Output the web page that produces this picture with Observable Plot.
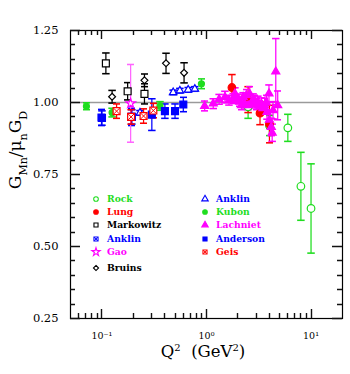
<!DOCTYPE html>
<html><head><meta charset="utf-8">
<script src="https://cdn.jsdelivr.net/npm/d3@7"></script>
<script src="https://cdn.jsdelivr.net/npm/@observablehq/plot@0.6"></script>
<style>body{margin:0;background:#fff} svg{display:block}</style>
</head><body><div id="chart"></div>
<script>
// ---- data (Q^2 in GeV^2, ratio, error) ----
const rockQ2 = [2.5, 4.0, 6.0, 8.0, 10.0];
const rockVal = [0.985, 0.92, 0.912, 0.709, 0.632];
const rockErr = [0.040, 0.035, 0.047, 0.118, 0.155];

const lungQ2 = [1.75, 2.5, 3.25, 4.0];
const lungVal = [1.052, 1.01, 0.963, 0.925];
const lungErr = [0.045, 0.045, 0.040, 0.065];

const markQ2 = [0.109, 0.176, 0.255];
const markVal = [1.136, 1.039, 1.030];
const markErr = [0.036, 0.030, 0.035];

const anklinXQ2 = [0.099, 0.192];
const anklinXVal = [0.948, 0.950];
const anklinXErr = [0.028, 0.030];

const gaoQ2 = [0.188];
const gaoVal = [0.997];
const gaoErr = [0.135];

const bruinsQ2 = [0.125, 0.255, 0.41, 0.61];
const bruinsVal = [1.020, 1.077, 1.136, 1.103];
const bruinsErr = [0.022, 0.022, 0.035, 0.035];

const anklinTQ2 = [0.231, 0.48, 0.556, 0.668, 0.773];
const anklinTVal = [0.964, 1.035, 1.041, 1.044, 1.047];
const anklinTErr = [0.008, 0.008, 0.008, 0.008, 0.008];

const kubonQ2 = [0.071, 0.125, 0.359, 0.894];
const kubonVal = [0.987, 0.965, 0.988, 1.065];
const kubonErr = [0.012, 0.015, 0.015, 0.017];

const lachQ2 = [0.96, 1.16, 1.32, 1.50, 1.64, 1.80, 1.87, 1.93, 2.0, 2.08, 2.16, 2.24, 2.33, 2.41, 2.50, 2.59, 2.69, 2.79, 2.89, 3.0, 3.1, 3.22, 3.35, 3.47, 3.6, 3.74, 3.79, 3.96, 4.0, 4.17, 4.25, 4.33, 4.6, 4.8];
const lachVal = [0.988, 0.996, 1.011, 1.019, 1.008, 1.014, 1.031, 1.012, 1.014, 1.002, 0.990, 1.019, 0.996, 1.025, 0.990, 1.030, 0.996, 1.010, 1.005, 0.995, 1.002, 0.985, 0.996, 0.980, 0.990, 1.000, 0.967, 1.031, 0.940, 0.915, 0.895, 0.973, 1.107, 0.990];
const lachErr = [0.017, 0.017, 0.017, 0.020, 0.017, 0.017, 0.020, 0.015, 0.015, 0.015, 0.015, 0.015, 0.015, 0.020, 0.015, 0.025, 0.015, 0.020, 0.020, 0.020, 0.020, 0.020, 0.020, 0.020, 0.025, 0.025, 0.025, 0.030, 0.030, 0.030, 0.030, 0.030, 0.115, 0.050];

const andQ2 = [0.1, 0.193, 0.3, 0.4, 0.5, 0.6];
const andVal = [0.946, 0.950, 0.958, 0.970, 0.970, 0.993];
const andErr = [0.025, 0.025, 0.055, 0.025, 0.025, 0.025];

const geisQ2 = [0.138, 0.19, 0.25, 0.31];
const geisVal = [0.970, 0.950, 0.953, 0.972];
const geisErr = [0.025, 0.025, 0.025, 0.025];

const xMajor = [0.1, 1, 10];
const xLabels = ["10\u207B\u00B9", "10\u2070", "10\u00B9"];
const yMajor = [0.25, 0.5, 0.75, 1.0, 1.25];
const yLabels = ["0.25", "0.50", "0.75", "1.00", "1.25"];

// ---- styling ----
const GREEN = "#1fdd1f", RED = "#ff0000", BLUE = "#0000ff", MAG = "#ff00ff", BLK = "#000000";

const series = [
  {name: "Rock", q: rockQ2, v: rockVal, e: rockErr, color: GREEN, symbol: "circle", filled: false, r: 3.8},
  {name: "Lung", q: lungQ2, v: lungVal, e: lungErr, color: RED, symbol: "circle", filled: true, r: 3.8},
  {name: "Markowitz", q: markQ2, v: markVal, e: markErr, color: BLK, symbol: "square", filled: false, r: 3.9},
  {name: "Anklin", q: anklinXQ2, v: anklinXVal, e: anklinXErr, color: BLUE, symbol: "square", filled: false, crossed: true, r: 3.9},
  {name: "Gao", q: gaoQ2, v: gaoVal, e: gaoErr, color: MAG, bar: "#ff66ff", symbol: "star", filled: false, r: 3.0},
  {name: "Bruins", q: bruinsQ2, v: bruinsVal, e: bruinsErr, color: BLK, symbol: "diamond2", filled: false, r: 3.1},
  {name: "Anklin", q: anklinTQ2, v: anklinTVal, e: anklinTErr, color: BLUE, symbol: "triangle", filled: false, r: 2.8},
  {name: "Kubon", q: kubonQ2, v: kubonVal, e: kubonErr, color: GREEN, symbol: "circle", filled: true, r: 3.0},
  {name: "Lachniet", q: lachQ2, v: lachVal, e: lachErr, color: MAG, symbol: "triangle", filled: true, r: 3.0},
  {name: "Anderson", q: andQ2, v: andVal, e: andErr, color: BLUE, symbol: "square", filled: true, r: 3.9},
  {name: "Geis", q: geisQ2, v: geisVal, e: geisErr, color: RED, symbol: "square", filled: false, crossed: true, r: 3.9}
];

const W = 350, H = 374, MT = 30, MR = 8, MB = 56, ML = 70;
const XDOM = [0.05, 20], YDOM = [0.25, 1.25];
const L = ML, R = W - MR, T = MT, B = H - MB;

const xMinor = [];
for (const d of [0.01, 0.1, 1]) for (let k = 2; k <= 9; k++) { const t = +(k * d).toPrecision(3); if (t > 0.05 && t < 20) xMinor.push(t); }
const yMinor = d3.range(5, 26).map(k => +(k * 0.05).toFixed(2)).filter(t => !yMajor.includes(t));

const marks = [];
marks.push(Plot.ruleY([1], {stroke: "#9a9a9a", strokeWidth: 1.3}));

for (const s of series) {
  const rows = s.q.map((q, i) => ({q, v: s.v[i], e: s.e[i]}));
  marks.push(Plot.link(rows, {x1: "q", x2: "q", y1: d => d.v - d.e, y2: d => d.v + d.e,
    stroke: s.bar || s.color, strokeWidth: 1.25, markerStart: "tick", markerEnd: "tick"}));
}
for (const s of series) {
  const rows = s.q.map((q, i) => ({q, v: s.v[i], e: s.e[i]}));
  marks.push(Plot.dot(rows, {x: "q", y: "v", symbol: s.symbol, r: s.r,
    fill: s.filled ? s.color : "white", stroke: s.color, strokeWidth: 1.2}));
  if (s.crossed) marks.push(Plot.dot(rows, {x: "q", y: "v", symbol: "times", r: 2.8, stroke: s.color, strokeWidth: 1}));
}
marks.push(Plot.frame({stroke: BLK, strokeWidth: 1.2}));
marks.push(Plot.axisX({ticks: xMajor, tickFormat: d => xLabels[xMajor.indexOf(d)], tickSize: 0, tickPadding: 14, fontSize: 9.5, label: null}));
marks.push(Plot.axisY({ticks: yMajor, tickFormat: d => yLabels[yMajor.indexOf(d)], tickSize: 0, tickPadding: 12, fontSize: 11.5, label: null}));

const svgNode = Plot.plot({
  width: W, height: H, marginTop: MT, marginRight: MR, marginBottom: MB, marginLeft: ML,
  style: {fontFamily: "DejaVu Serif", background: "white", color: "black"},
  x: {type: "log", domain: XDOM, label: null},
  y: {domain: YDOM, label: null},
  marks
});
document.getElementById("chart").append(svgNode);

const svg = d3.select(svgNode);

// inward ticks on all four sides (same geometry as the plot's x/y scales)
const X = d3.scaleLog(XDOM, [L, R]), Y = d3.scaleLinear(YDOM, [B, T]);
const tickPath = [];
const addX = (vals, len) => vals.forEach(v => {
  const x = Math.round(X(v)) + 0.5;
  tickPath.push(`M${x},${B}V${B - len}`, `M${x},${T}V${T + len}`);
});
const addY = (vals, len) => vals.forEach(v => {
  const y = Math.round(Y(v)) + 0.5;
  tickPath.push(`M${L},${y}H${L + len}`, `M${R},${y}H${R - len}`);
});
addX(xMajor, 9); addX(xMinor, 5); addY(yMajor, 10); addY(yMinor, 5);
svg.append("path").attr("d", tickPath.join("")).attr("stroke", "#111").attr("stroke-width", 1.4).attr("fill", "none");

// x title
const xt = svg.append("text").attr("x", 203).attr("y", 357).attr("text-anchor", "middle")
  .style("font-family", "DejaVu Serif").style("font-size", "16.5px").attr("fill", "black");
xt.append("tspan").text("Q");
xt.append("tspan").attr("dy", -6).style("font-size", "10px").text("2");
xt.append("tspan").attr("dy", 6).text("\u00A0\u00A0(GeV");
xt.append("tspan").attr("dy", -6).style("font-size", "10px").text("2");
xt.append("tspan").attr("dy", 6).text(")");
// y title
const yt = svg.append("text").attr("transform", "translate(21,150) rotate(-90)").attr("text-anchor", "middle")
  .style("font-family", "DejaVu Serif").style("font-size", "17px").attr("fill", "black");
yt.append("tspan").text("G");
yt.append("tspan").attr("dy", 6).style("font-size", "11px").text("Mn");
yt.append("tspan").attr("dy", -6).text("/\u03BC");
yt.append("tspan").attr("dy", 6).style("font-size", "11px").text("n");
yt.append("tspan").attr("dy", -6).text("G");
yt.append("tspan").attr("dy", 6).style("font-size", "11px").text("D");

// legend
const symMap = {circle: d3.symbolCircle, square: d3.symbolSquare, triangle: d3.symbolTriangle, star: d3.symbolStar, diamond2: d3.symbolDiamond2, times: d3.symbolTimes};
const legCols = [{mx: 96, tx: 107, items: series.slice(0, 6)}, {mx: 205, tx: 216, items: series.slice(6)}];
const rowY = [199, 212, 225, 239, 252, 268];
const lg = svg.append("g").attr("text-anchor", "start");
for (const col of legCols) {
  col.items.forEach((s, i) => {
    const y = rowY[i];
    const rr = s.symbol === "star" ? 2.6 : (s.symbol === "triangle" ? 2.4 : 2.3);
    lg.append("path").attr("transform", `translate(${col.mx},${y})`)
      .attr("d", d3.symbol(symMap[s.symbol], Math.PI * rr * rr)())
      .attr("fill", s.filled ? s.color : "white").attr("stroke", s.color).attr("stroke-width", 1.1);
    if (s.crossed) lg.append("path").attr("transform", `translate(${col.mx},${y})`)
      .attr("d", d3.symbol(d3.symbolTimes, Math.PI * 1.8 * 1.8)())
      .attr("fill", "none").attr("stroke", s.color).attr("stroke-width", 0.9);
    lg.append("text").attr("x", col.tx).attr("y", y + 3.4).attr("text-anchor", "start").text(s.name)
      .attr("fill", s.color).style("font-family", "DejaVu Serif").style("font-weight", "bold").style("font-size", "9.2px");
  });
}
</script>
</body></html>
